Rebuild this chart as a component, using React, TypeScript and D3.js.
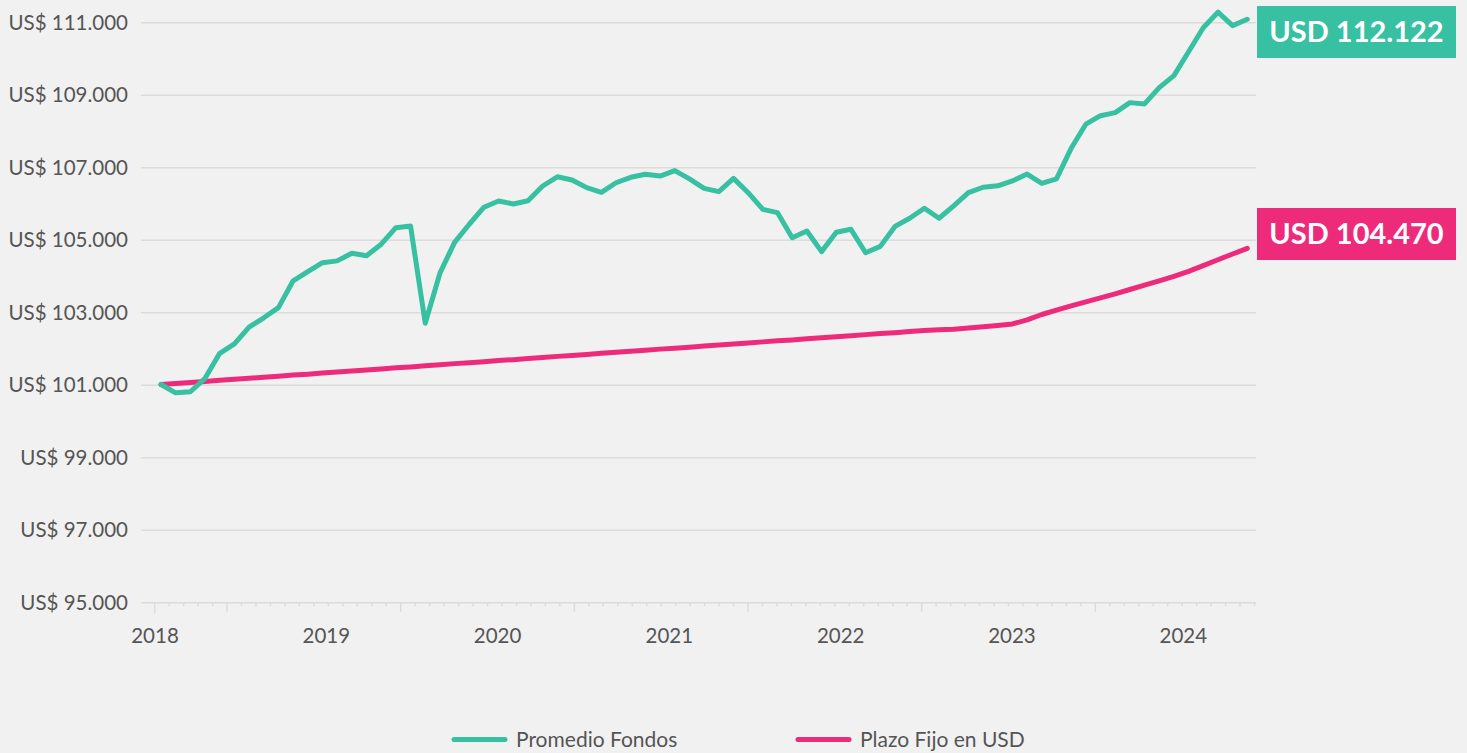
import React, { useEffect, useRef } from 'react'
import * as d3 from 'd3'

// valores mensuales (aprox.)
const fondos = [
    101020, 100790, 100820, 101190, 101880, 102140, 102600, 102860, 103140, 103880,
    104130, 104380, 104430, 104640, 104570, 104890, 105345, 105390, 102710, 104090,
    104940, 105440, 105910, 106080, 106000, 106090, 106495, 106750, 106660, 106450,
    106320, 106585, 106735, 106820, 106770, 106920, 106690, 106430, 106340, 106705,
    106310, 105850, 105760, 105070, 105255, 104685, 105220, 105300, 104655, 104830,
    105380, 105605, 105880, 105605, 105945, 106310, 106460, 106500, 106635, 106825,
    106570, 106690, 107535, 108200, 108435, 108520, 108795, 108760, 109210, 109540,
    110200, 110860, 111290, 110920, 111095,
]

const plazoFijo = [
    101020, 101050, 101075, 101105, 101135, 101165, 101190, 101220, 101250, 101280,
    101305, 101335, 101365, 101390, 101420, 101450, 101480, 101505, 101535, 101565,
    101595, 101620, 101650, 101680, 101705, 101735, 101765, 101795, 101820, 101850,
    101880, 101910, 101935, 101965, 101995, 102020, 102050, 102080, 102110, 102135,
    102165, 102195, 102225, 102250, 102280, 102310, 102335, 102365, 102395, 102425,
    102450, 102480, 102510, 102530, 102545, 102580, 102615, 102650, 102690, 102800,
    102950, 103070, 103190, 103300, 103410, 103520, 103640, 103760, 103880, 104000,
    104140, 104300, 104460, 104620, 104776,
]

const yTicks = [95000, 97000, 99000, 101000, 103000, 105000, 107000, 109000, 111000]
const years = [2018, 2019, 2020, 2021, 2022, 2023, 2024]
const seriesNames = ['Promedio Fondos', 'Plazo Fijo en USD']
const endLabels = ['USD 112.122', 'USD 104.470']
const colors = ['#37c0a1', '#ee2a7b']

export default function App() {
    const svgRef = useRef<SVGSVGElement>(null)

    const width = 1467
    const height = 753

    useEffect(() => {
        const svg = d3.select(svgRef.current).attr('width', width).attr('height', height)
        svg.selectAll('*').remove()

        const font = 'Lato, "Open Sans", sans-serif'
        const gridLeft = 141
        const gridRight = 1256

        svg.append('rect').attr('width', width).attr('height', height).attr('fill', '#f1f1f1')

        const y = d3.scaleLinear().domain([95000, 111000]).range([602.7, 22.7])
        const x = d3.scaleLinear().domain([0, fondos.length - 1]).range([161, 1247.3])
        const xYear = d3
            .scaleTime()
            .domain([new Date(2018, 0, 1), new Date(2024, 0, 1)])
            .range([155, 1183.3])
        const xTick = d3.scaleLinear().domain([0, 76]).range([154.7, 1254.5])

        const fmt = (v: number) => 'US$ ' + d3.format(',')(v).replace(/,/g, '.')

        // grid
        svg.append('g')
            .selectAll('line')
            .data(yTicks)
            .enter()
            .append('line')
            .attr('x1', gridLeft)
            .attr('x2', gridRight)
            .attr('y1', (d) => y(d))
            .attr('y2', (d) => y(d))
            .attr('stroke', '#dcdcdc')
            .attr('stroke-width', 1.5)

        svg.append('g')
            .selectAll('text')
            .data(yTicks)
            .enter()
            .append('text')
            .attr('x', 128)
            .attr('y', (d) => y(d))
            .attr('dy', '0.35em')
            .attr('text-anchor', 'end')
            .attr('font-family', font)
            .attr('font-size', 20.5)
            .attr('fill', '#555')
            .text(fmt)

        // x axis ticks
        const tickIdx = d3.range(0, 77)
        svg.append('g')
            .selectAll('line')
            .data(tickIdx)
            .enter()
            .append('line')
            .attr('x1', (d) => xTick(d))
            .attr('x2', (d) => xTick(d))
            .attr('y1', y(95000))
            .attr('y2', (d) => y(95000) + (d === 0 ? 11 : d % 12 === 5 ? 9 : 3.5))
            .attr('stroke', '#dcdcdc')
            .attr('stroke-width', 1.5)

        svg.append('g')
            .selectAll('text')
            .data(years)
            .enter()
            .append('text')
            .attr('x', (d) => xYear(new Date(d, 0, 1)))
            .attr('y', 643)
            .attr('text-anchor', 'middle')
            .attr('font-family', font)
            .attr('font-size', 20.5)
            .attr('fill', '#555')
            .text((d) => d)

        // lines
        const line = d3
            .line<number>()
            .x((d, i) => x(i))
            .y((d) => y(d))

        ;[plazoFijo, fondos].forEach((s, k) => {
            svg.append('path')
                .datum(s)
                .attr('fill', 'none')
                .attr('stroke', colors[1 - k])
                .attr('stroke-width', 5)
                .attr('stroke-linejoin', 'round')
                .attr('stroke-linecap', 'round')
                .attr('d', line)
        })

        // end labels
        const boxes = [6, 208]
        endLabels.forEach((t, k) => {
            const g = svg.append('g').attr('transform', `translate(1257, ${boxes[k]})`)
            g.append('rect').attr('width', 199).attr('height', 52).attr('fill', colors[k])
            g.append('text')
                .attr('x', 99.5)
                .attr('y', 26)
                .attr('dy', '0.36em')
                .attr('text-anchor', 'middle')
                .attr('font-family', font)
                .attr('font-weight', 700)
                .attr('font-size', 29)
                .attr('fill', '#fff')
                .text(t)
        })

        // legend
        const legendX = [454, 798]
        seriesNames.forEach((name, k) => {
            const g = svg.append('g').attr('transform', `translate(${legendX[k]}, 739.5)`)
            g.append('line')
                .attr('x1', 0)
                .attr('x2', 51)
                .attr('stroke', colors[k])
                .attr('stroke-width', 5)
                .attr('stroke-linecap', 'round')
            g.append('text')
                .attr('x', 62)
                .attr('y', 7.5)
                .attr('font-family', font)
                .attr('font-size', 21)
                .attr('fill', '#555')
                .text(name)
        })
    }, [])

    return <svg ref={svgRef} style={{ position: 'absolute', left: 0, top: 0 }} />
}
